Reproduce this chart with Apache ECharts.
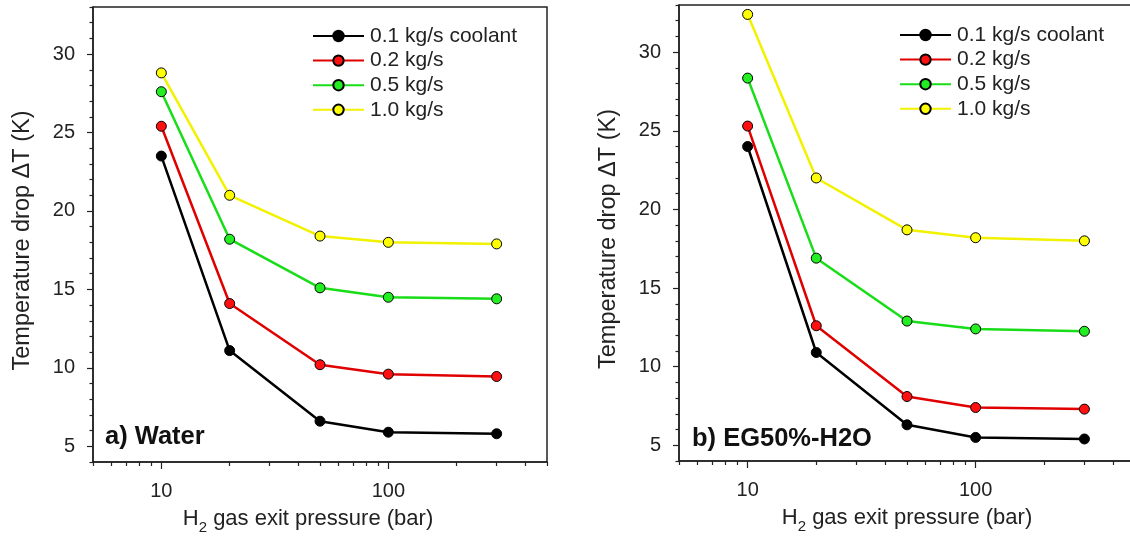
<!DOCTYPE html>
<html>
<head>
<meta charset="utf-8">
<script src="https://cdn.jsdelivr.net/npm/echarts@6/dist/echarts.min.js"></script>
<style>
html,body{margin:0;padding:0;background:#fff;}
#chart{width:1130px;height:536px;}
</style>
</head>
<body>
<div id="chart"></div>
<script>
// ---- data ----
const pressure = [10, 20, 50, 100, 300];
const seriesNames = ['0.1 kg/s coolant', '0.2 kg/s', '0.5 kg/s', '1.0 kg/s'];
// a) Water
const water01 = [23.5, 11.1, 6.6, 5.9, 5.8];
const water02 = [25.4, 14.1, 10.2, 9.6, 9.45];
const water05 = [27.6, 18.2, 15.1, 14.5, 14.4];
const water10 = [28.8, 21.0, 18.4, 18.0, 17.9];
// b) EG50%-H2O
const eg01 = [24.0, 10.9, 6.3, 5.5, 5.4];
const eg02 = [25.3, 12.6, 8.1, 7.4, 7.3];
const eg05 = [28.35, 16.9, 12.9, 12.4, 12.25];
const eg10 = [32.4, 22.0, 18.7, 18.2, 18.0];
// tick labels
const xTickLabels = [10, 100];
const xMinorTicks = [5, 6, 7, 8, 9, 20, 30, 40, 50, 60, 70, 80, 90, 200, 300, 400, 500];
const yTickLabels = [5, 10, 15, 20, 25, 30];
const yMinorTicks = [4, 6, 7, 8, 9, 11, 12, 13, 14, 16, 17, 18, 19, 21, 22, 23, 24, 26, 27, 28, 29, 31, 32, 33];
const panelLabels = ['a) Water', 'b) EG50%-H2O'];

// ---- styling ----
const FONT = 'Liberation Sans, Arial, sans-serif';
const TXT = '#222';
const lineColors = ['#000000', '#e00000', '#18dd18', '#f2f200'];
const fillColors = ['#000000', '#ff1010', '#22ee22', '#ffff00'];

function pairs(arr) { return pressure.map((p, i) => [p, arr[i]]); }

const xName = '{a|H}{s|2}{a| gas exit pressure (bar)}';
const xNameRich = {
  a: { fontSize: 22, fontFamily: FONT, color: TXT, verticalAlign: 'bottom', lineHeight: 25 },
  s: { fontSize: 15, fontFamily: FONT, color: TXT, verticalAlign: 'bottom', lineHeight: 15, padding: [0, 0, -5, 0] }
};

function xAxes(gi, pad) {
  return [
    {
      type: 'log', logBase: 10, gridIndex: gi, min: 5, max: 500, position: 'bottom',
      axisLine: { show: true, lineStyle: { color: TXT, width: 1.5 } },
      axisTick: { show: true, customValues: xTickLabels, length: 7, lineStyle: { color: TXT, width: 1.2 } },
      axisLabel: { customValues: xTickLabels, fontSize: 20, fontFamily: FONT, color: TXT, margin: 19 },
      splitLine: { show: false }, minorTick: { show: false },
      name: xName, nameLocation: 'middle', nameGap: 43,
      nameTextStyle: { rich: xNameRich, padding: pad }
    },
    {
      type: 'log', logBase: 10, gridIndex: gi, min: 5, max: 500, position: 'bottom',
      axisLine: { show: false },
      axisTick: { show: true, customValues: xMinorTicks, length: 4, lineStyle: { color: TXT, width: 1.2 } },
      axisLabel: { show: false }, splitLine: { show: false }
    }
  ];
}

function yAxes(gi, gap) {
  return [
    {
      type: 'value', gridIndex: gi, min: 4, max: 33, position: 'left',
      axisLine: { show: true, lineStyle: { color: TXT, width: 1.5 } },
      axisTick: { show: true, customValues: yTickLabels, length: 6, lineStyle: { color: TXT, width: 1.2 } },
      axisLabel: { customValues: yTickLabels, fontSize: 20, fontFamily: FONT, color: TXT, margin: 18 },
      splitLine: { show: false },
      name: 'Temperature drop ΔT (K)', nameLocation: 'middle', nameRotate: 90, nameGap: gap,
      nameTextStyle: { fontSize: 23.5, fontFamily: FONT, color: TXT, padding: [0, 12, 0, 0] }
    },
    {
      type: 'value', gridIndex: gi, min: 4, max: 33, position: 'left',
      axisLine: { show: false },
      axisTick: { show: true, customValues: yMinorTicks, length: 3.5, lineStyle: { color: TXT, width: 1.2 } },
      axisLabel: { show: false }, splitLine: { show: false }
    }
  ];
}

function mkSeries(dataArrs, gi) {
  return dataArrs.map((arr, k) => ({
    name: seriesNames[k], type: 'line',
    xAxisIndex: gi * 2, yAxisIndex: gi * 2,
    data: pairs(arr),
    symbol: 'circle', symbolSize: 10,
    lineStyle: { color: lineColors[k], width: 2.5 },
    itemStyle: { color: fillColors[k], borderColor: '#000', borderWidth: 1 },
    emphasis: { disabled: true },
    z: 2 + k
  }));
}

function mkLegend(left, top) {
  return {
    left: left, top: top, orient: 'vertical',
    itemWidth: 51, itemHeight: 13, itemGap: 3.6,
    data: seriesNames, selectedMode: false,
    textStyle: { fontSize: 21, fontFamily: FONT, color: TXT, padding: [0, 0, 0, 1] }
  };
}

const chart = echarts.init(document.getElementById('chart'), null, { renderer: 'canvas' });
chart.setOption({
  backgroundColor: '#fff',
  animation: false,
  grid: [
    { left: 93, top: 7, width: 454, height: 455, outerBoundsMode: 'none', containLabel: false, show: true, borderColor: TXT, borderWidth: 1.5, backgroundColor: 'transparent' },
    { left: 679, top: 5, width: 456, height: 456, outerBoundsMode: 'none', containLabel: false, show: true, borderColor: TXT, borderWidth: 1.5, backgroundColor: 'transparent' }
  ],
  xAxis: [...xAxes(0, [0, 24, 0, 0]), ...xAxes(1, [0, 0, 0, 0])],
  yAxis: [...yAxes(0, 58), ...yAxes(1, 58)],
  legend: [mkLegend(307, 20.5), mkLegend(894, 19.5)],
  series: [...mkSeries([water01, water02, water05, water10], 0), ...mkSeries([eg01, eg02, eg05, eg10], 1)],
  graphic: [
    { type: 'text', left: 105, top: 424, style: { text: panelLabels[0], font: 'bold 25.5px ' + FONT, fill: '#111' } },
    { type: 'text', left: 692, top: 426, style: { text: panelLabels[1], font: 'bold 25.5px ' + FONT, fill: '#111' } }
  ]
});
</script>
</body>
</html>
